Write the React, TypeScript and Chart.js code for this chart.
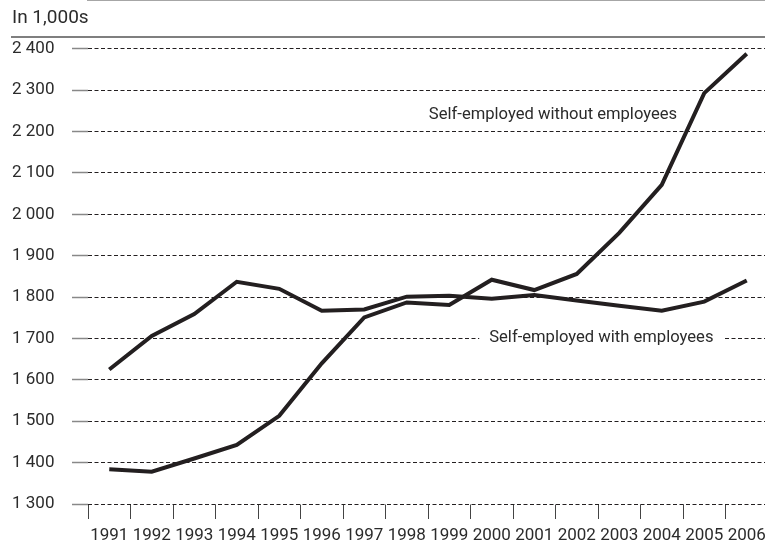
import React, { useEffect, useRef } from "react";
import { Chart, registerables } from "chart.js";

Chart.register(...registerables);

const years = ["1991","1992","1993","1994","1995","1996","1997","1998","1999","2000","2001","2002","2003","2004","2005","2006"];
const withEmployees = [1625, 1706, 1759, 1837, 1820, 1767, 1770, 1801, 1803, 1796, 1805, 1792, 1779, 1767, 1789, 1840];
const withoutEmployees = [1384, 1378, 1410, 1443, 1513, 1640, 1751, 1787, 1781, 1842, 1817, 1856, 1955, 2071, 2293, 2388];
const unitLabel = "In 1,000s";
const seriesNames = ["Self-employed with employees", "Self-employed without employees"];

const FONT = "Roboto, 'Open Sans', sans-serif";
const INK = "#231f20";
const TEXT = "#2b2b2b";

// annotation anchors in (category index, value) terms
const labelAnchors = [
  { text: seriesNames[1], xi: 7.52, v: 2230, mask: false },
  { text: seriesNames[0], xi: 8.94, v: 1691, mask: true },
];

const fmt = (v: number) => {
  const s = String(Math.round(v));
  return s.length > 3 ? s.slice(0, s.length - 3) + " " + s.slice(-3) : s;
};

const decorPlugin = {
  id: "decor",
  beforeDraw(chart: any) {
    const ctx = chart.ctx;
    ctx.save();
    ctx.strokeStyle = "#555";
    ctx.lineWidth = 1.5;
    ctx.beginPath();
    ctx.moveTo(11, 37);
    ctx.lineTo(chart.width, 37);
    ctx.stroke();
    ctx.restore();
  },
  beforeDatasetsDraw(chart: any) {
    const ctx = chart.ctx;
    const xs = chart.scales.x;
    const ys = chart.scales.y;
    ctx.save();
    ctx.font = `16.6px ${FONT}`;
    ctx.textBaseline = "alphabetic";
    ctx.textAlign = "left";
    for (const a of labelAnchors) {
      const x = xs.getPixelForValue(a.xi);
      const y = ys.getPixelForValue(a.v);
      const w = ctx.measureText(a.text).width;
      if (a.mask) {
        ctx.fillStyle = "#ffffff";
        ctx.fillRect(x - 10, y - 16, w + 20, 21);
      }
      ctx.fillStyle = TEXT;
      ctx.fillText(a.text, x, y);
    }
    ctx.restore();
  },
};

export default function App() {
  const ref = useRef<HTMLCanvasElement | null>(null);
  useEffect(() => {
    if (!ref.current) return;
    const chart = new Chart(ref.current, {
      type: "line",
      data: {
        labels: years,
        datasets: [
          {
            label: seriesNames[0],
            data: withEmployees,
            borderColor: INK,
            borderWidth: 4,
            pointRadius: 0,
            tension: 0,
            fill: false,
          },
          {
            label: seriesNames[1],
            data: withoutEmployees,
            borderColor: INK,
            borderWidth: 4,
            pointRadius: 0,
            tension: 0,
            fill: false,
          },
        ],
      },
      options: {
        responsive: false,
        maintainAspectRatio: false,
        animation: false,
        layout: { padding: { left: 12, right: 12, top: 0, bottom: 0 } },
        plugins: {
          legend: { display: false },
          tooltip: { enabled: false },
          title: {
            display: true,
            text: unitLabel,
            align: "start",
            color: TEXT,
            font: { family: FONT, size: 19, weight: "normal" },
            padding: { top: 7, bottom: 19 },
          },
        },
        scales: {
          x: {
            type: "category",
            offset: true,
            grid: {
              offset: true,
              drawOnChartArea: false,
              drawTicks: true,
              tickLength: 15,
              tickColor: "#444",
              tickWidth: 1,
            },
            border: { display: true, color: "#888", width: 1.5, z: -2 },
            ticks: {
              color: TEXT,
              font: { family: FONT, size: 17 },
              padding: 7,
              maxRotation: 0,
              autoSkip: false,
            },
            afterFit: (s: any) => { s.height = 40; },
          },
          y: {
            min: 1300,
            max: 2400,
            grid: {
              color: INK,
              lineWidth: 1,
              tickLength: 16,
              tickColor: "#888",
              tickWidth: 1.5,
            },
            border: { display: false, dash: [4, 2.5] },
            ticks: {
              stepSize: 100,
              crossAlign: "far",
              color: TEXT,
              font: { family: FONT, size: 17 },
              callback: (v: any) => fmt(Number(v)),
            },
            afterFit: (s: any) => { s.width = 76; },
          },
        },
      },
      plugins: [decorPlugin],
    });
    return () => chart.destroy();
  }, []);
  return (
    <div style={{ position: "absolute", left: 0, top: 0, width: 765, height: 544, overflow: "hidden", background: "#fff" }}>
      <canvas ref={ref} width={780} height={544} style={{ display: "block" }} />
    </div>
  );
}
